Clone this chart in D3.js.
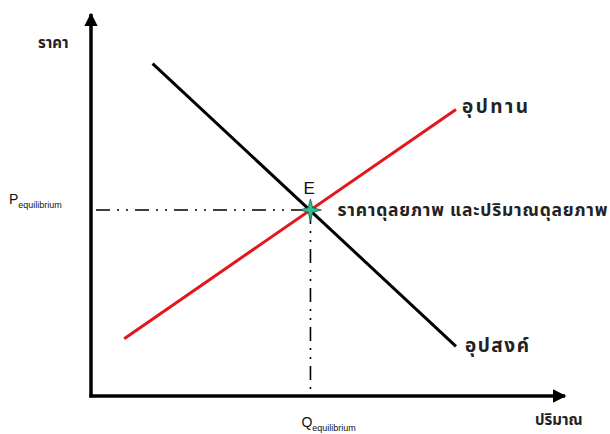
<!DOCTYPE html>
<html>
<head>
<meta charset="utf-8">
<script src="https://cdn.jsdelivr.net/npm/d3@7"></script>
<style>
  body { margin: 0; background: #fff; }
  .thai { font-family: "Noto Sans Thai", "Tahoma", "Noto Sans", sans-serif; font-weight: bold; fill: #222; }
  .lat { font-family: "Liberation Sans", Arial, sans-serif; fill: #111; }
</style>
</head>
<body>
<div id="graf"></div>
<script>
// datos del grafico (unidades abstractas 0-100)
const demanda = [{ q: 13, p: 87 }, { q: 77, p: 13 }]
const oferta = [{ q: 7, p: 15 }, { q: 77, p: 75 }]
const equilibrio = { q: 46.3, p: 48.7 }
const etiquetas = {
  precio: "ราคา",
  cantidad: "ปริมาณ",
  oferta: "อุปทาน",
  demanda: "อุปสงค์",
  equilibrio: "ราคาดุลยภาพ และปริมาณดุลยภาพ",
  punto: "E",
}

const anchoTotal = 610
const altoTotal = 434

const svg = d3
  .select("#graf")
  .append("svg")
  .attr("width", anchoTotal)
  .attr("height", altoTotal)

// Escaladores
const x = d3.scaleLinear().domain([0, 100]).range([91, 565])
const y = d3.scaleLinear().domain([0, 100]).range([396, 14])

const defs = svg.append("defs")
defs
  .append("marker")
  .attr("id", "flecha")
  .attr("viewBox", "0 0 10 10")
  .attr("refX", 9)
  .attr("refY", 5)
  .attr("markerWidth", 4)
  .attr("markerHeight", 3.8)
  .attr("markerUnits", "strokeWidth")
  .attr("orient", "auto")
  .append("path")
  .attr("d", "M0,0 L10,5 L0,10 Z")
  .attr("fill", "#000")

// ejes
svg
  .append("path")
  .attr("d", `M${x(0)},${y(0) + 1.5} L${x(0)},${y(100)}`)
  .attr("stroke", "#000")
  .attr("stroke-width", 3.5)
  .attr("marker-end", "url(#flecha)")
svg
  .append("path")
  .attr("d", `M${x(0) - 1.5},${y(0)} L${x(100)},${y(0)}`)
  .attr("stroke", "#000")
  .attr("stroke-width", 3.5)
  .attr("marker-end", "url(#flecha)")

// lineas de equilibrio
const guia = svg.append("g")
  .attr("stroke", "#000")
  .attr("stroke-width", 1.6)
  .attr("stroke-dasharray", "14,7,2,7,2,7")
  .attr("fill", "none")
guia
  .append("line")
  .attr("x1", x(0) + 5)
  .attr("x2", x(equilibrio.q))
  .attr("y1", y(equilibrio.p))
  .attr("y2", y(equilibrio.p))
guia
  .append("line")
  .attr("x1", x(equilibrio.q))
  .attr("x2", x(equilibrio.q))
  .attr("y1", y(equilibrio.p))
  .attr("y2", y(0) - 2)

const linea = d3.line().x((d) => x(d.q)).y((d) => y(d.p))

svg
  .append("path")
  .datum(demanda)
  .attr("d", linea)
  .attr("stroke", "#000")
  .attr("stroke-width", 3)
  .attr("fill", "none")

svg
  .append("path")
  .datum(oferta)
  .attr("d", linea)
  .attr("stroke", "#e3161b")
  .attr("stroke-width", 3)
  .attr("fill", "none")

// estrella
const ex = x(equilibrio.q)
const ey = y(equilibrio.p)
const r1 = 11, r2 = 3.2
const puntos = d3.range(8).map((i) => {
  const a = (i * Math.PI) / 4 - Math.PI / 2
  const r = i % 2 === 0 ? r1 : r2
  return [ex + r * Math.cos(a), ey + r * Math.sin(a)]
})
svg
  .append("polygon")
  .attr("points", puntos.map((p) => p.join(",")).join(" "))
  .attr("fill", "#2ec08f")
  .attr("stroke", "#1a5a4a")
  .attr("stroke-width", 0.8)

// textos
svg.append("text").attr("class", "thai")
  .attr("x", 38).attr("y", 48).attr("font-size", 15).attr("fill", "#333")
  .text(etiquetas.precio)

svg.append("text").attr("class", "thai")
  .attr("x", 535).attr("y", 425).attr("font-size", 15)
  .text(etiquetas.cantidad)

svg.append("text").attr("class", "thai")
  .attr("x", x(oferta[1].q) + 6).attr("y", y(oferta[1].p) + 3)
  .attr("font-size", 19)
  .attr("textLength", 66)
  .text(etiquetas.oferta)

svg.append("text").attr("class", "thai")
  .attr("x", x(demanda[1].q) + 9).attr("y", y(demanda[1].p) + 6)
  .attr("font-size", 19)
  .attr("textLength", 64)
  .text(etiquetas.demanda)

svg.append("text").attr("class", "thai")
  .attr("x", ex + 27).attr("y", ey + 6)
  .attr("font-size", 17.5)
  .attr("textLength", 270)
  .text(etiquetas.equilibrio)

svg.append("text").attr("class", "lat")
  .attr("x", ex - 7).attr("y", ey - 16)
  .attr("font-size", 17)
  .text(etiquetas.punto)

const pEq = svg.append("text").attr("class", "lat")
  .attr("x", 9).attr("y", ey - 6).attr("font-size", 14)
pEq.append("tspan").text("P")
pEq.append("tspan").attr("font-size", 9).attr("dy", 4).text("equilibrium")

const qEq = svg.append("text").attr("class", "lat")
  .attr("x", ex - 9).attr("y", y(0) + 31).attr("font-size", 14)
qEq.append("tspan").text("Q")
qEq.append("tspan").attr("font-size", 9).attr("dy", 4).text("equilibrium")
</script>
</body>
</html>
